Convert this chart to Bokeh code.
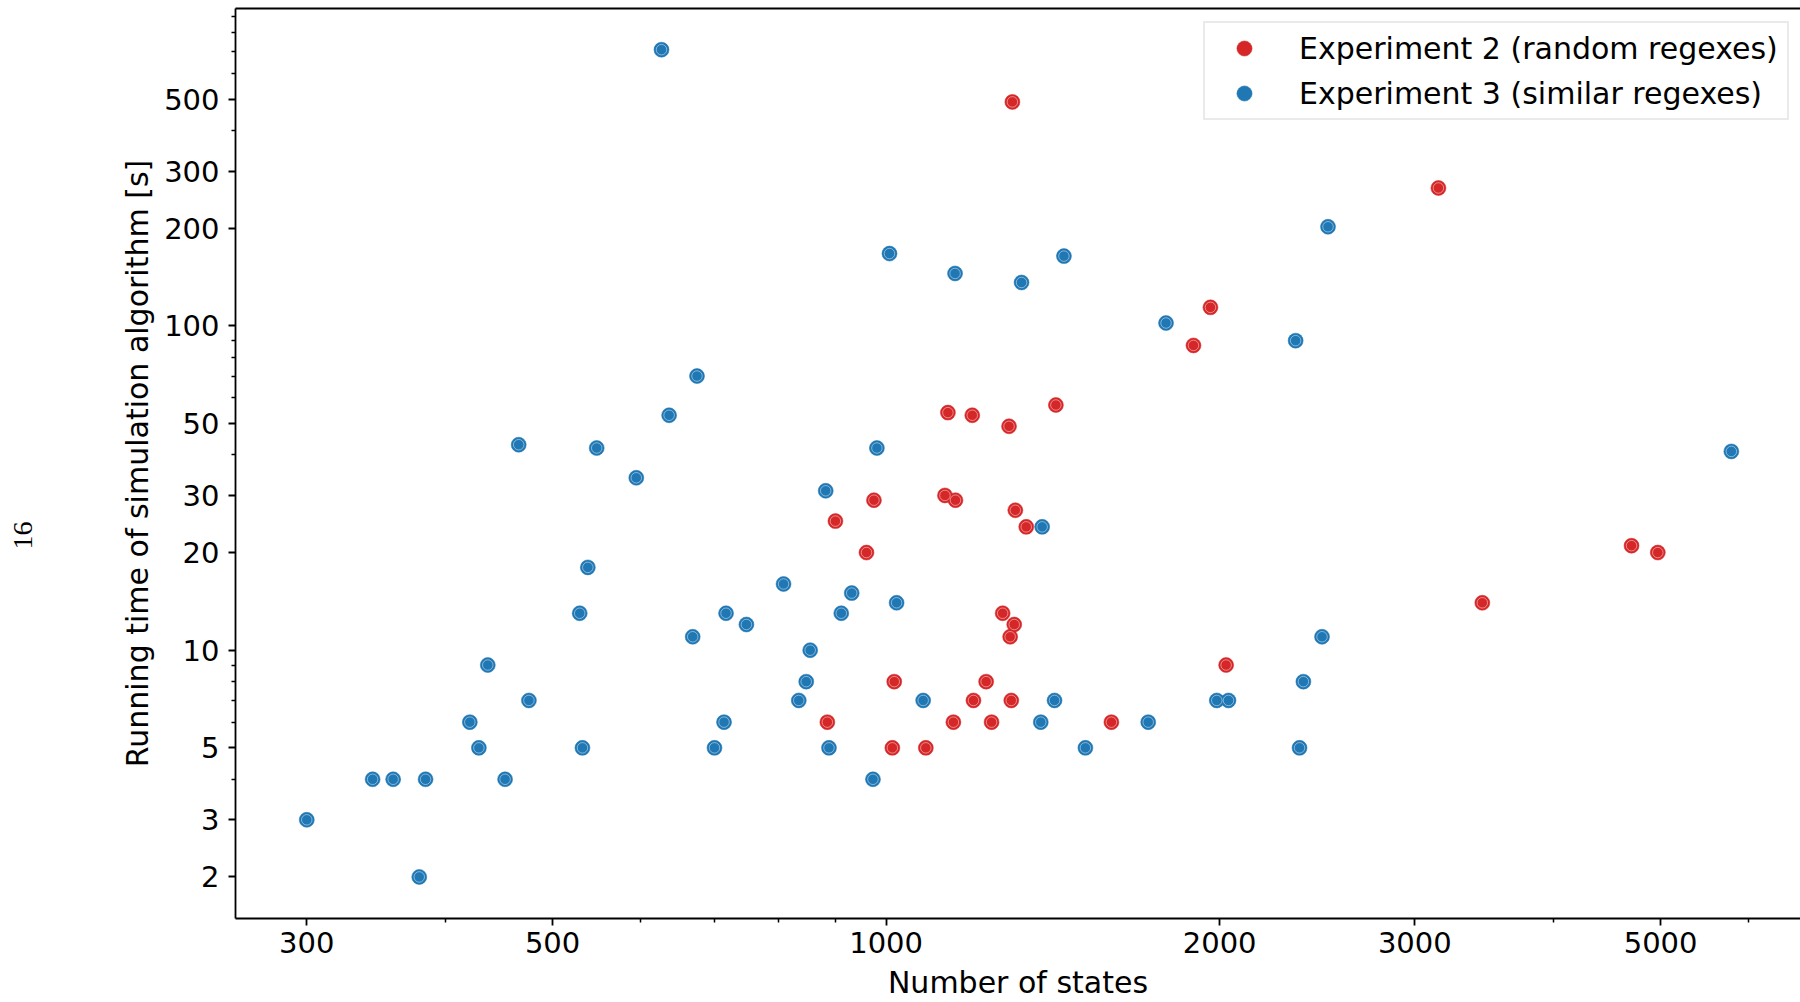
from bokeh.plotting import figure
from bokeh.models import (Range1d, FixedTicker, NumeralTickFormatter, Legend, LegendItem,
                          LinearAxis, Title, ColumnDataSource)
from bokeh.embed import file_html
from bokeh.resources import INLINE

# ---- data ----
exp2_states = [1300, 3151, 1962, 1894, 1137, 1196, 1291, 1423, 1130, 1155, 975, 1308, 1338,
               900, 960, 4707, 4971, 3452, 1274, 1305, 1294, 2027, 1017, 1231, 1199, 1297,
               885, 1150, 1245, 1597, 1013, 1086]
exp2_time = [490, 266, 114, 87, 54, 53, 49, 57, 30, 29, 29, 27, 24,
             25, 20, 21, 20, 14, 13, 12, 11, 9, 8, 8, 7, 7,
             6, 6, 6, 6, 5, 5]

exp3_states = [627, 2505, 1007, 1447, 1154, 1325, 1789, 2342, 675, 637, 466, 548, 981, 5792,
               595, 882, 1383, 538, 808, 931, 1022, 529, 717, 911, 748, 669, 2474, 854,
               437, 847, 2380, 476, 834, 1080, 1419, 1988, 2037, 421, 714, 1379, 1724,
               429, 532, 700, 888, 1513, 2361, 344, 359, 384, 453, 973, 300, 379]
exp3_time = [710, 202, 167, 164, 145, 136, 102, 90, 70, 53, 43, 42, 42, 41,
             34, 31, 24, 18, 16, 15, 14, 13, 13, 13, 12, 11, 11, 10,
             9, 8, 8, 7, 7, 7, 7, 7, 7, 6, 6, 6, 6,
             5, 5, 5, 5, 5, 5, 4, 4, 4, 4, 4, 3, 2]

series_labels = ["Experiment 2 (random regexes)", "Experiment 3 (similar regexes)"]
series_colors = ["#d62728", "#1f77b4"]

x_major = [300, 500, 1000, 2000, 3000, 5000]
x_minor = [400, 600, 700, 800, 900, 4000, 6000]
y_major = [2, 3, 5, 10, 20, 30, 50, 100, 200, 300, 500]
y_minor = [4, 6, 7, 8, 9, 40, 60, 70, 80, 90, 400, 600, 700, 800, 900]

page_number = "16"

FONT = "DejaVu Sans"

p = figure(width=1800, height=1002, x_axis_type="log", y_axis_type="log",
           x_range=Range1d(258.7, 6687), y_range=Range1d(1.489, 951),
           output_backend="svg", toolbar_location=None,
           min_border_left=235, min_border_right=0, min_border_top=8, min_border_bottom=82)
p.background_fill_color = "white"
p.border_fill_color = "white"
p.outline_line_color = None
p.xgrid.visible = False
p.ygrid.visible = False

for ax, maj, mnr in ((p.xaxis[0], x_major, x_minor), (p.yaxis[0], y_major, y_minor)):
    ax.ticker = FixedTicker(ticks=maj, minor_ticks=mnr)
    ax.formatter = NumeralTickFormatter(format="0")
    ax.axis_line_color = "black"
    ax.axis_line_width = 1.8
    ax.major_tick_line_color = "black"
    ax.major_tick_line_width = 1.8
    ax.minor_tick_line_color = "black"
    ax.minor_tick_line_width = 1.5
    ax.major_tick_out = 7
    ax.major_tick_in = 0
    ax.minor_tick_out = 4
    ax.minor_tick_in = 0
    ax.major_label_text_font = FONT
    ax.major_label_text_font_size = "29px"
    ax.major_label_text_color = "black"
    ax.axis_label_text_font = FONT
    ax.axis_label_text_font_size = "30px"
    ax.axis_label_text_font_style = "normal"
    ax.axis_label_text_color = "black"

p.xaxis.axis_label = "Number of states"
p.yaxis.axis_label = "Running time of simulation algorithm [s]"
p.xaxis.major_label_standoff = 6
p.xaxis.axis_label_standoff = 9
p.yaxis.major_label_standoff = 9
p.yaxis.axis_label_standoff = 6

# top spine
top = LinearAxis(ticker=FixedTicker(ticks=[]), axis_line_color="black", axis_line_width=1.8,
                 major_tick_out=0, major_tick_in=0, minor_tick_out=0, minor_tick_in=0,
                 major_label_standoff=0)
p.add_layout(top, "above")

renderers = []
for xs, ys, col in ((exp2_states, exp2_time, series_colors[0]),
                    (exp3_states, exp3_time, series_colors[1])):
    src = ColumnDataSource(dict(x=xs, y=ys))
    r = p.scatter("x", "y", source=src, size=15, marker="circle",
                  fill_color=col, line_color=col, line_width=0.5)
    p.scatter("x", "y", source=src, size=10.5, marker="circle",
              fill_color=None, line_color="white", line_alpha=0.45, line_width=1)
    renderers.append(r)

legend = Legend(items=[LegendItem(label=series_labels[i], renderers=[renderers[i]]) for i in range(2)],
                location=(968, 798), margin=0, padding=6, spacing=7,
                glyph_width=66, glyph_height=38, label_standoff=22, label_width=482,
                label_text_font=FONT, label_text_font_size="30px", label_text_color="black",
                border_line_color="#d6d6d6", border_line_width=2,
                background_fill_color="white", background_fill_alpha=0.8)
p.add_layout(legend)

# spacer panel between the y axis and the page number
spacer = Title(text=" ", text_font_size="1px", standoff=83, text_color="white")
p.add_layout(spacer, "left")

page_title = Title(text=page_number, align="left", offset=369, standoff=0,
                   text_font="Liberation Serif", text_font_size="28px",
                   text_font_style="normal", text_color="black")
p.add_layout(page_title, "left")

open("out.html", "w").write(file_html(p, INLINE))
